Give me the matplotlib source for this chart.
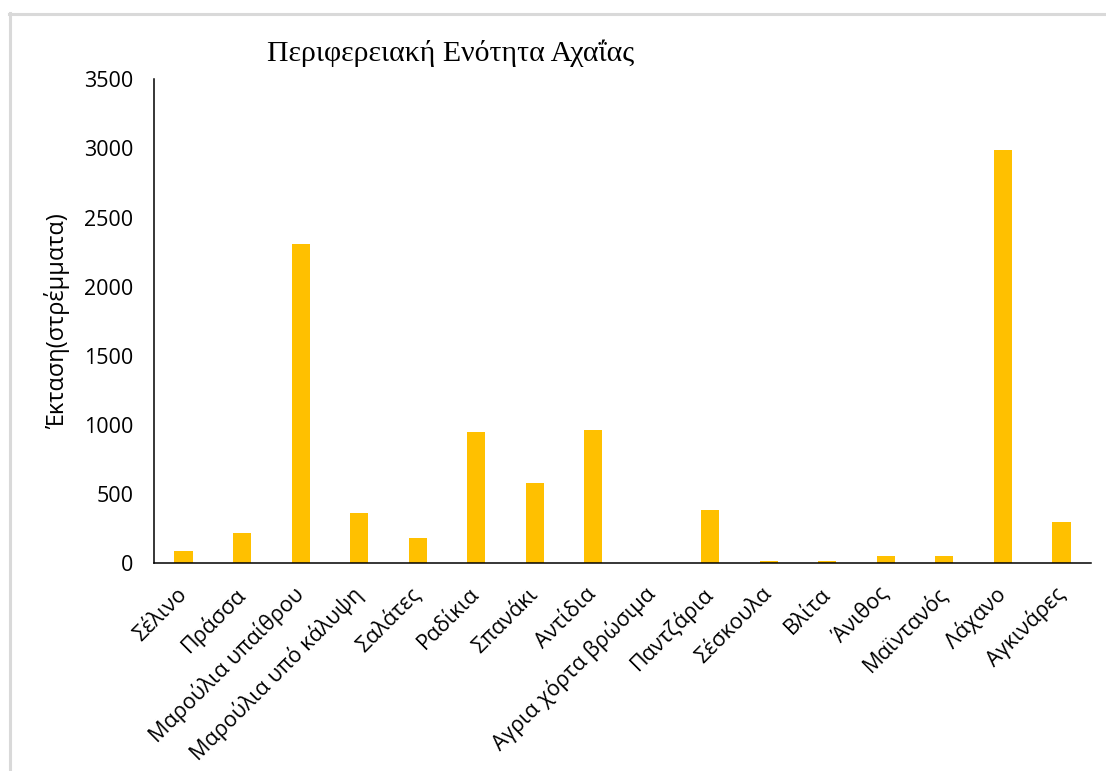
import matplotlib
matplotlib.use("Agg")
import matplotlib.pyplot as plt
from matplotlib.lines import Line2D

# Vegetable crop areas, Regional Unit of Achaia (stremmata)
categories = [
    "Σέλινο", "Πράσσα", "Μαρούλια υπαίθρου", "Μαρούλια υπό κάλυψη",
    "Σαλάτες", "Ραδίκια", "Σπανάκι", "Αντίδια", "Αγρια χόρτα βρώσιμα",
    "Παντζάρια", "Σέσκουλα", "Βλίτα", "Άνιθος", "Μαϊντανός", "Λάχανο",
    "Αγκινάρες",
]
areas = [90, 220, 2310, 365, 185, 950, 580, 965, 0, 385, 15, 15, 50, 50, 2990, 300]
y_ticks = [0, 500, 1000, 1500, 2000, 2500, 3000, 3500]

title = "Περιφερειακή Ενότητα Αχαΐας"
y_label = "Έκταση(στρέμματα)"

W, H = 1106, 771
fig = plt.figure(figsize=(W / 100, H / 100), dpi=100)
fig.patch.set_facecolor("white")

ax = fig.add_axes([154.3 / W, 1 - 563.3 / H, (1090.7 - 154.3) / W, (563.3 - 79.3) / H])

x = list(range(len(categories)))
ax.bar(x, areas, width=0.31, color="#FFC000", zorder=2)

ax.set_xlim(-0.5, len(categories) - 0.5)
ax.set_ylim(0, 3500)
ax.set_yticks(y_ticks)
ax.set_yticklabels([str(v) for v in y_ticks], fontfamily="Open Sans", fontsize=15.5)
ax.set_xticks(x)
ax.set_xticklabels(categories, rotation=45, ha="right", va="center",
                   rotation_mode="anchor", fontfamily="Open Sans", fontsize=15.5)
ax.tick_params(axis="both", length=0, colors="black")
ax.tick_params(axis="y", pad=15)
ax.tick_params(axis="x", pad=20)

for side in ("top", "right"):
    ax.spines[side].set_visible(False)
for side in ("left", "bottom"):
    ax.spines[side].set_linewidth(1.1)
    ax.spines[side].set_color("black")

ax.set_ylabel(y_label, fontfamily="Open Sans", fontsize=17, labelpad=10)

fig.text(451 / W, 1 - 53 / H, title, fontfamily="Liberation Serif",
         fontsize=21.5, ha="center", va="center")

# Light grey frame along the top and left edges
fig.add_artist(Line2D([8.5 / W, 1.0], [1 - 13.5 / H, 1 - 13.5 / H],
                      transform=fig.transFigure, color="#d9d9d9", lw=2.2))
fig.add_artist(Line2D([9.5 / W, 9.5 / W], [0.0, 1 - 12.5 / H],
                      transform=fig.transFigure, color="#d9d9d9", lw=2.2))

fig.savefig("out.png", dpi=100, facecolor="white")
